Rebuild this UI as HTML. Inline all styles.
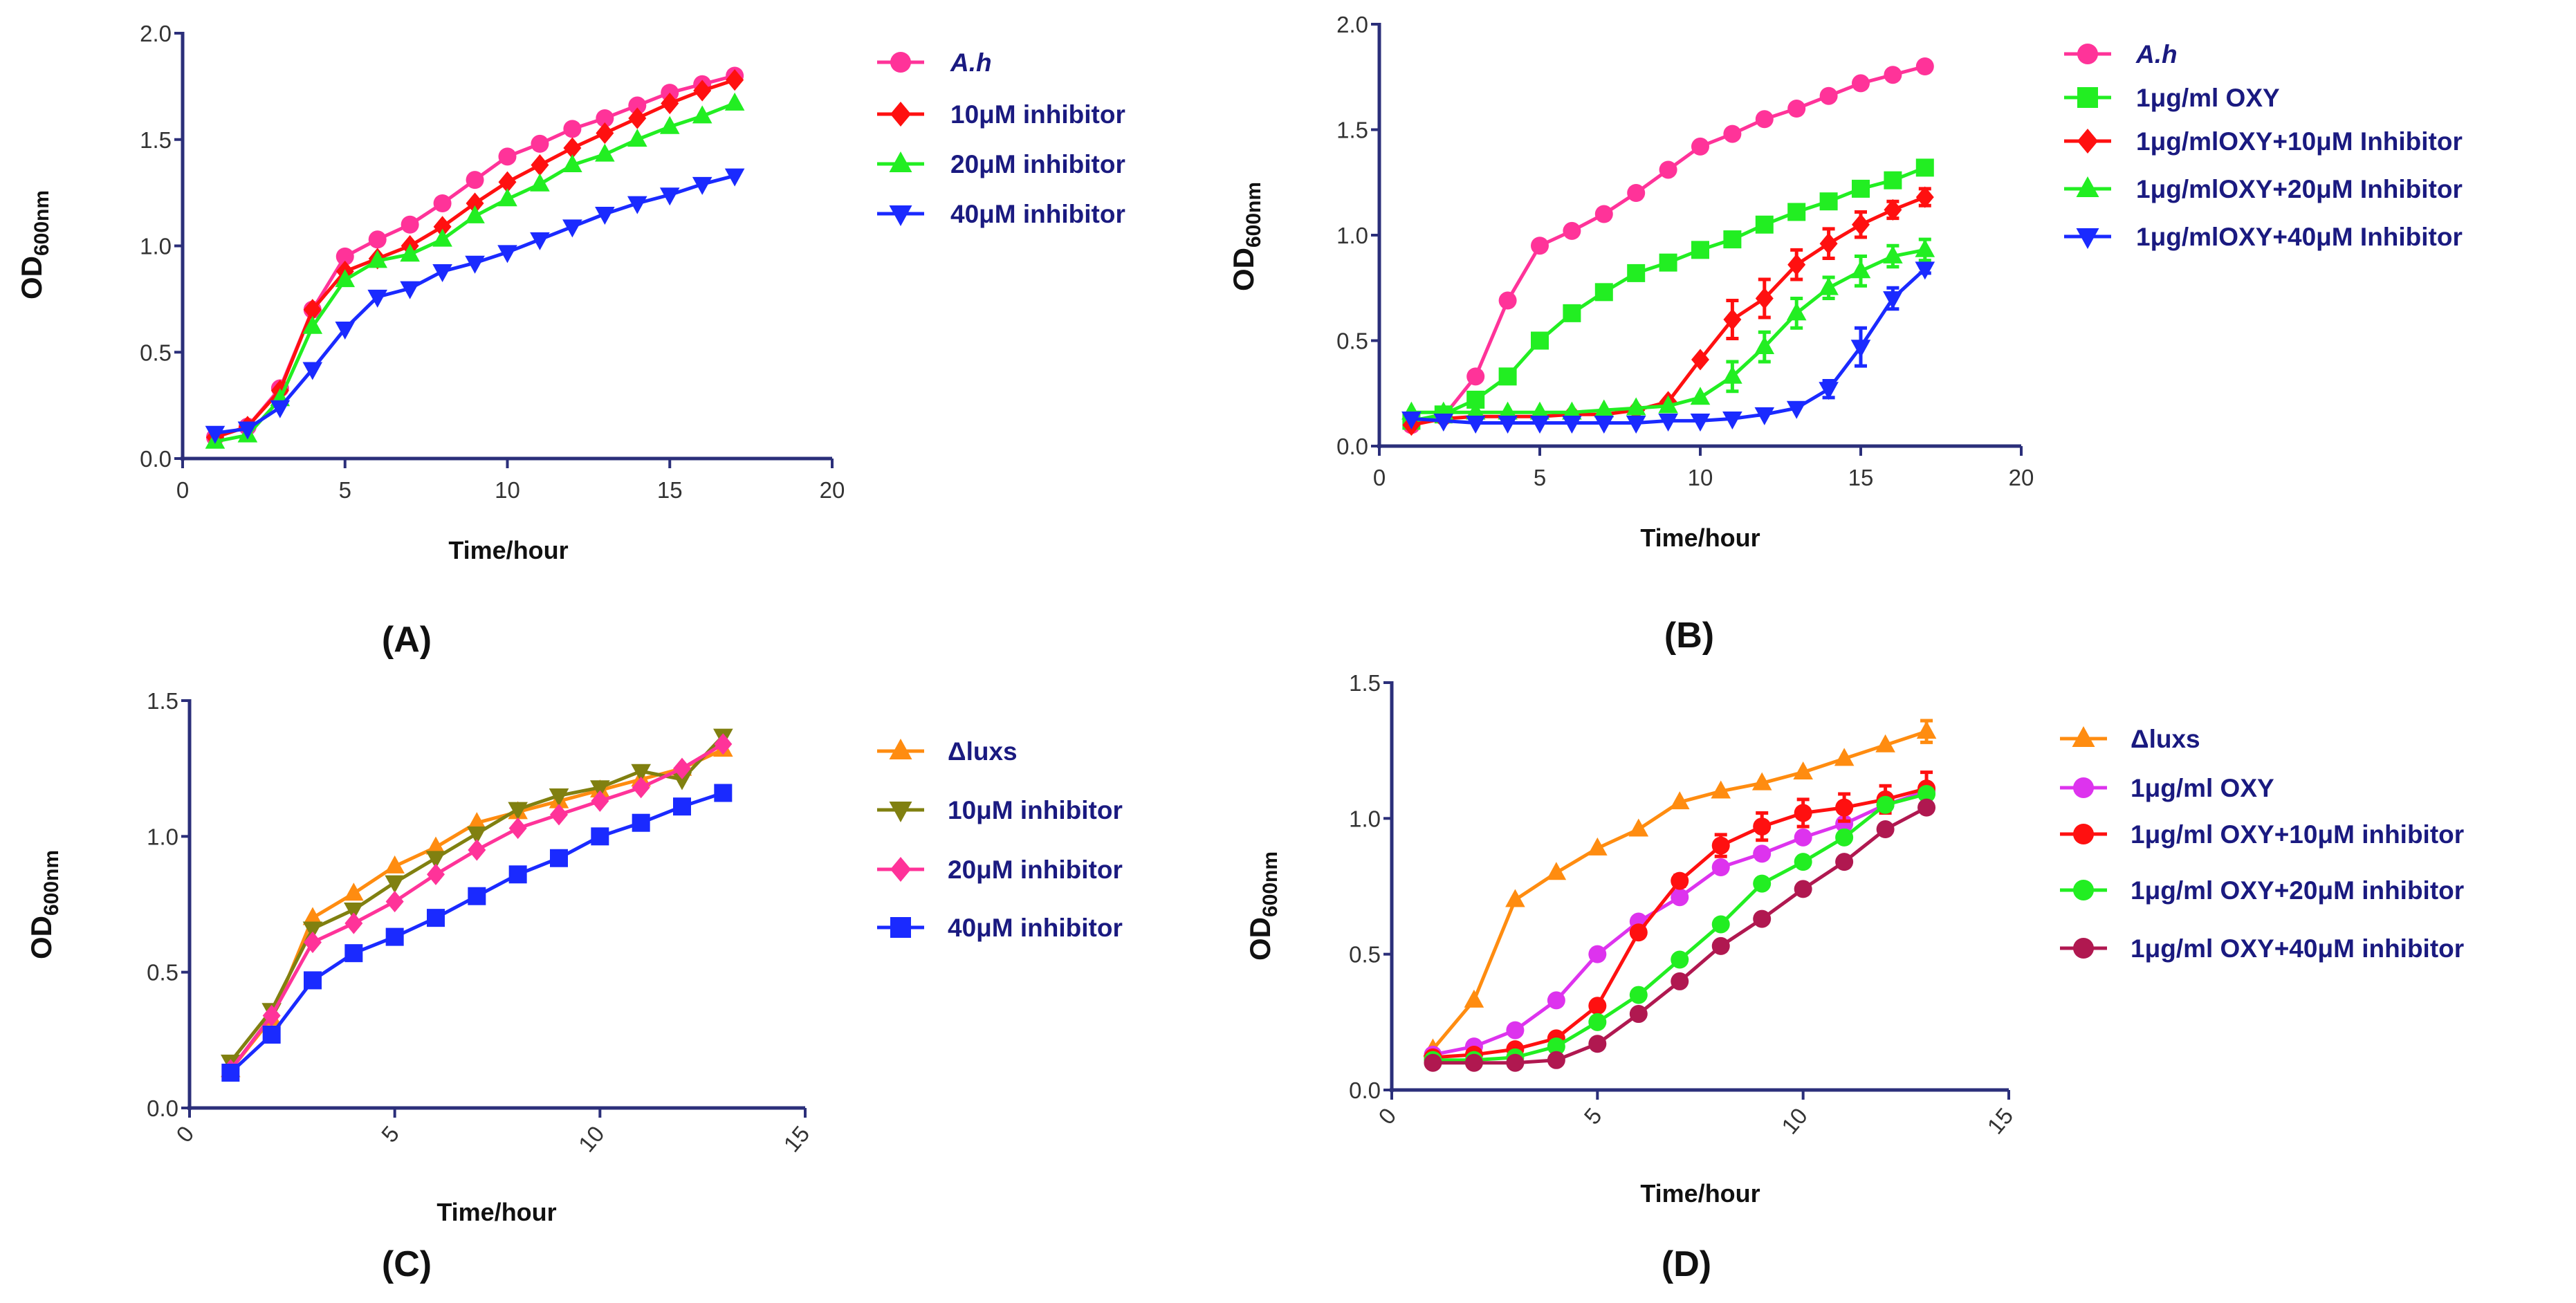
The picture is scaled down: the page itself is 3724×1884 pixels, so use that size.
<!DOCTYPE html>
<html><head><meta charset="utf-8"><style>
html,body{margin:0;padding:0;background:#fff;}
svg{display:block;font-family:"Liberation Sans",Arial,sans-serif;}
</style></head><body>
<svg id="fig" width="3724" height="1884" viewBox="0 0 3724 1884" xmlns="http://www.w3.org/2000/svg"></svg>
<script>
// ---- Data ----
const hoursAB = [1,2,3,4,5,6,7,8,9,10,11,12,13,14,15,16,17];
const hoursCD = [1,2,3,4,5,6,7,8,9,10,11,12,13];
const A_ah   = [.10,.15,.33,.70,.95,1.03,1.10,1.20,1.31,1.42,1.48,1.55,1.60,1.66,1.72,1.76,1.80];
const A_10   = [.10,.15,.32,.70,.88,.94,1.00,1.09,1.20,1.30,1.38,1.46,1.53,1.60,1.67,1.73,1.78];
const A_20   = [.08,.11,.28,.62,.84,.93,.96,1.03,1.14,1.22,1.29,1.38,1.43,1.50,1.56,1.61,1.67];
const A_40   = [.12,.14,.24,.42,.61,.76,.80,.88,.92,.97,1.03,1.09,1.15,1.20,1.24,1.29,1.33];
const B_ah   = [.10,.14,.33,.69,.95,1.02,1.10,1.20,1.31,1.42,1.48,1.55,1.60,1.66,1.72,1.76,1.80];
const B_oxy  = [.12,.15,.22,.33,.50,.63,.73,.82,.87,.93,.98,1.05,1.11,1.16,1.22,1.26,1.32];
const B_10   = [.10,.13,.14,.14,.14,.15,.15,.17,.21,.41,.60,.70,.86,.96,1.05,1.12,1.18];
const B_10e  = [0,0,0,0,0,0,0,0,0,0,.09,.09,.07,.07,.06,.04,.04];
const B_20   = [.16,.16,.16,.16,.16,.16,.17,.18,.19,.23,.33,.47,.63,.75,.83,.90,.93];
const B_20e  = [0,0,0,0,0,0,0,0,0,0,.07,.07,.07,.05,.07,.05,.05];
const B_40   = [.13,.12,.11,.11,.11,.11,.11,.11,.12,.12,.13,.15,.18,.27,.47,.70,.84];
const B_40e  = [0,0,0,0,0,0,0,0,0,0,0,0,0,.04,.09,.05,.02];
const C_lux  = [.14,.33,.70,.79,.89,.96,1.05,1.09,1.13,1.17,1.21,1.25,1.32];
const C_10   = [.17,.36,.66,.73,.83,.92,1.01,1.10,1.15,1.18,1.24,1.21,1.37];
const C_20   = [.14,.34,.61,.68,.76,.86,.95,1.03,1.08,1.13,1.18,1.25,1.34];
const C_40   = [.13,.27,.47,.57,.63,.70,.78,.86,.92,1.00,1.05,1.11,1.16];
const D_lux  = [.15,.33,.70,.80,.89,.96,1.06,1.10,1.13,1.17,1.22,1.27,1.32];
const D_luxe = [0,0,0,0,0,0,0,0,0,0,0,0,.04];
const D_oxy  = [.13,.16,.22,.33,.50,.62,.71,.82,.87,.93,.98,1.05,1.10];
const D_10   = [.12,.13,.15,.19,.31,.58,.77,.90,.97,1.02,1.04,1.07,1.11];
const D_10e  = [0,0,0,0,0,0,.02,.04,.05,.05,.05,.05,.06];
const D_20   = [.11,.11,.12,.16,.25,.35,.48,.61,.76,.84,.93,1.05,1.09];
const D_40   = [.10,.10,.10,.11,.17,.28,.40,.53,.63,.74,.84,.96,1.04];
const ticksX20 = [0,5,10,15,20];
const ticksX15 = [0,5,10,15];
const ticksY20 = [0.0,0.5,1.0,1.5,2.0];
const ticksY15 = [0.0,0.5,1.0,1.5];

const NS='http://www.w3.org/2000/svg';
const svg=document.getElementById('fig');
function mk(tag,attrs,parent,text){
  const e=document.createElementNS(NS,tag);
  for(const k in attrs)e.setAttribute(k,attrs[k]);
  if(text!==undefined)e.textContent=text;
  (parent||svg).appendChild(e);return e;
}
const AX='#2b2f7a', NAVY='#1a1a80';

function marker(g,shape,cx,cy,col,r){
  let e;
  if(shape==='circle') e=mk('circle',{cx:cx,cy:cy,r:r,fill:col},g);
  else if(shape==='square') e=mk('rect',{x:cx-r,y:cy-r,width:2*r,height:2*r,fill:col},g);
  else if(shape==='diamond') e=mk('polygon',{points:`${cx},${cy-r*1.2} ${cx+r},${cy} ${cx},${cy+r*1.2} ${cx-r},${cy}`,fill:col},g);
  else if(shape==='tri') e=mk('polygon',{points:`${cx},${cy-r*1.2} ${cx+r*1.1},${cy+r*0.8} ${cx-r*1.1},${cy+r*0.8}`,fill:col},g);
  else e=mk('polygon',{points:`${cx},${cy+r*1.2} ${cx+r*1.1},${cy-r*0.8} ${cx-r*1.1},${cy-r*0.8}`,fill:col},g);
  
  
  return e;
}

function panel(p){
  const g=mk('g',{});
  const sx=v=>p.x0+(v-0)/(p.xmax)*(p.x1-p.x0);
  const sy=v=>p.y0-(v/p.ymax)*(p.y0-p.y1);
  const ax=mk('g',{},g);
  mk('line',{x1:p.x0,y1:p.y1-2,x2:p.x0,y2:p.y0+3,stroke:AX,'stroke-width':5},ax);
  mk('line',{x1:p.x0-3,y1:p.y0,x2:p.x1,y2:p.y0,stroke:AX,'stroke-width':5},ax);
  p.yt.forEach(t=>{
    mk('line',{x1:p.x0-12,y1:sy(t),x2:p.x0,y2:sy(t),stroke:AX,'stroke-width':4},ax);
    const tl=mk('text',{x:p.x0-16,y:sy(t)+12,'text-anchor':'end','font-size':33,fill:'#333'},ax,t.toFixed(1));
    
    
  });
  p.xt.forEach(t=>{
    mk('line',{x1:sx(t),y1:p.y0,x2:sx(t),y2:p.y0+14,stroke:AX,'stroke-width':4},ax);
    let tl;
    if(p.rot){
      tl=mk('text',{x:sx(t)+8,y:p.y0+38,'text-anchor':'end','font-size':33,fill:'#333',transform:`rotate(-50 ${sx(t)+8} ${p.y0+38})`},ax,String(t));
    } else {
      tl=mk('text',{x:sx(t),y:p.y0+57,'text-anchor':'middle','font-size':33,fill:'#333'},ax,String(t));
    }
    
    
  });
  mk('text',{x:p.xtx,y:p.xty,'text-anchor':'middle','font-size':36,'font-weight':'bold',fill:'#111',},g,'Time/hour');
  const yt=mk('text',{x:p.ytx,y:p.yty,'text-anchor':'middle','font-size':42,'font-weight':'bold',fill:'#111',transform:`rotate(-90 ${p.ytx} ${p.yty})`,},g);
  mk('tspan',{},yt,'OD');
  mk('tspan',{'font-size':30,dy:10},yt,'600nm');
  mk('text',{x:p.lx,y:p.ly,'text-anchor':'middle','font-size':52,'font-weight':'bold',fill:'#111',},g,p.label);
  p.series.forEach((s,i)=>{
    const sg=mk('g',{},g);
    const pts=s.y.map((v,j)=>sx(p.xs[j])+','+sy(v)).join(' ');
    mk('polyline',{points:pts,fill:'none',stroke:s.col,'stroke-width':5,'stroke-linejoin':'round'},sg);
    if(s.e) s.y.forEach((v,j)=>{const e=s.e[j];if(!e)return;const X=sx(p.xs[j]);
      mk('path',{d:`M${X},${sy(v-e)}V${sy(v+e)}M${X-9},${sy(v+e)}H${X+9}M${X-9},${sy(v-e)}H${X+9}`,stroke:s.col,'stroke-width':5,fill:'none'},sg);});
    s.y.forEach((v,j)=>marker(sg,s.shape,sx(p.xs[j]),sy(v),s.col,13));
    const ly=p.legY[i];
    const lg=mk('g',{},g);
    mk('line',{x1:p.legX-34,y1:ly,x2:p.legX+34,y2:ly,stroke:s.col,'stroke-width':5},lg);
    marker(lg,s.shape,p.legX,ly,s.col,15);
    mk('text',{x:p.legTX,y:ly+13,'font-size':37,'font-weight':'bold',fill:NAVY,'font-style':s.it?'italic':'normal'},lg,s.label);
  });
}

panel({name:'panel-a',label:'(A)',x0:264,x1:1203,y0:663,y1:48,xmax:20,ymax:2,xt:ticksX20,yt:ticksY20,xs:hoursAB,
  xtx:735,xty:808,ytx:60,yty:354,lx:588,ly:942,legX:1302,legTX:1374,legY:[90,165,237,309],
  series:[{key:'ah',label:'A.h',it:true,y:A_ah,col:'#ff3399',shape:'circle'},
    {key:'10uM',label:'10μM inhibitor',y:A_10,col:'#ff1010',shape:'diamond'},
    {key:'20uM',label:'20μM inhibitor',y:A_20,col:'#22ee22',shape:'tri'},
    {key:'40uM',label:'40μM inhibitor',y:A_40,col:'#1a2aff',shape:'itri'}]});
panel({name:'panel-b',label:'(B)',x0:1994,x1:2922,y0:645,y1:35,xmax:20,ymax:2,xt:ticksX20,yt:ticksY20,xs:hoursAB,
  xtx:2458,xty:790,ytx:1812,yty:342,lx:2442,ly:936,legX:3018,legTX:3088,legY:[78,141,204,273,342],
  series:[{key:'ah',label:'A.h',it:true,y:B_ah,col:'#ff3399',shape:'circle'},
    {key:'oxy',label:'1μg/ml OXY',y:B_oxy,col:'#22ee22',shape:'square'},
    {key:'oxy10',label:'1μg/mlOXY+10μM Inhibitor',y:B_10,e:B_10e,col:'#ff1010',shape:'diamond'},
    {key:'oxy20',label:'1μg/mlOXY+20μM Inhibitor',y:B_20,e:B_20e,col:'#22ee22',shape:'tri'},
    {key:'oxy40',label:'1μg/mlOXY+40μM Inhibitor',y:B_40,e:B_40e,col:'#1a2aff',shape:'itri'}]});
panel({name:'panel-c',label:'(C)',x0:274,x1:1164,y0:1602,y1:1013,xmax:15,ymax:1.5,xt:ticksX15,yt:ticksY15,xs:hoursCD,rot:true,
  xtx:718,xty:1765,ytx:74,yty:1308,lx:588,ly:1845,legX:1302,legTX:1370,legY:[1086,1171,1257,1341],
  series:[{key:'luxs',label:'Δluxs',y:C_lux,col:'#ff8c10',shape:'tri'},
    {key:'10uM',label:'10μM inhibitor',y:C_10,col:'#808010',shape:'itri'},
    {key:'20uM',label:'20μM inhibitor',y:C_20,col:'#ff3399',shape:'diamond'},
    {key:'40uM',label:'40μM inhibitor',y:C_40,col:'#1a2aff',shape:'square'}]});
panel({name:'panel-d',label:'(D)',x0:2012,x1:2904,y0:1576,y1:987,xmax:15,ymax:1.5,xt:ticksX15,yt:ticksY15,xs:hoursCD,rot:true,
  xtx:2458,xty:1738,ytx:1836,yty:1310,lx:2438,ly:1845,legX:3012,legTX:3080,legY:[1068,1139,1206,1287,1371],
  series:[{key:'luxs',label:'Δluxs',y:D_lux,e:D_luxe,col:'#ff8c10',shape:'tri'},
    {key:'oxy',label:'1μg/ml OXY',y:D_oxy,col:'#dd33ee',shape:'circle'},
    {key:'oxy10',label:'1μg/ml OXY+10μM inhibitor',y:D_10,e:D_10e,col:'#ff1010',shape:'circle'},
    {key:'oxy20',label:'1μg/ml OXY+20μM inhibitor',y:D_20,col:'#22ee22',shape:'circle'},
    {key:'oxy40',label:'1μg/ml OXY+40μM inhibitor',y:D_40,col:'#b01850',shape:'circle'}]});
</script>
</body></html>
